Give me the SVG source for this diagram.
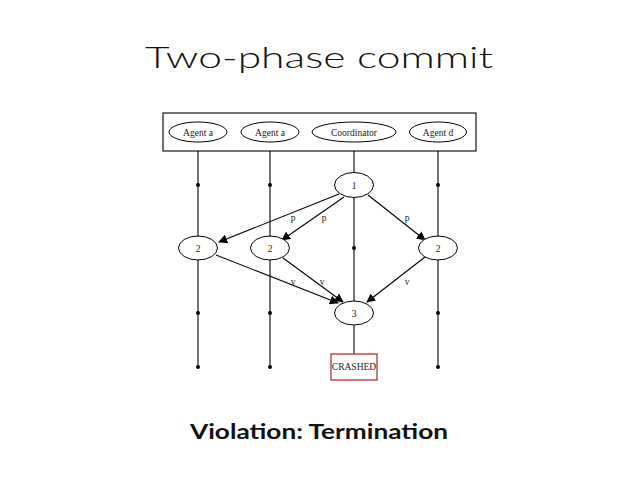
<svg xmlns="http://www.w3.org/2000/svg" width="638" height="479" viewBox="0 0 638 479">
<style>
.n{fill:#fff;stroke:#000;stroke-width:1}
.t{font-family:"Liberation Serif",serif;font-size:9.5px;fill:#222;text-anchor:middle}
.l{stroke:#000;stroke-width:1.1;fill:none}
.e{stroke:#000;stroke-width:1.1;fill:none;marker-end:url(#a)}
.d{fill:#000}
</style>
<defs>
<marker id="a" viewBox="0 0 10 10" refX="9" refY="5" markerWidth="9" markerHeight="9" markerUnits="userSpaceOnUse" orient="auto">
<path d="M0,0 L10,5 L0,10 z" fill="#000"/>
</marker>
</defs>
<rect width="638" height="479" fill="#fff"/>
<text x="145" y="68" font-family="Lato,'Noto Sans',sans-serif" font-size="30" font-weight="300" fill="#111" textLength="348" lengthAdjust="spacingAndGlyphs">Two-phase commit</text>
<g id="connectors">
<line class="l" x1="198" y1="151" x2="198" y2="237"/>
<line class="l" x1="198" y1="260" x2="198" y2="367"/>
<line class="l" x1="270" y1="151" x2="270" y2="237"/>
<line class="l" x1="270" y1="260" x2="270" y2="367"/>
<line class="l" x1="438" y1="151" x2="438" y2="237"/>
<line class="l" x1="438" y1="260" x2="438" y2="367"/>
<line class="l" x1="354" y1="151" x2="354" y2="173"/>
<line class="l" x1="354" y1="198" x2="354" y2="301"/>
<line class="l" x1="354" y1="325" x2="354" y2="354"/>
<circle class="d" cx="198" cy="185" r="2"/><circle class="d" cx="270" cy="185" r="2"/><circle class="d" cx="438" cy="185" r="2"/>
<circle class="d" cx="354" cy="248" r="2"/>
<circle class="d" cx="198" cy="313" r="2"/><circle class="d" cx="270" cy="313" r="2"/><circle class="d" cx="438" cy="313" r="2"/>
<circle class="d" cx="198" cy="367" r="2"/><circle class="d" cx="270" cy="367" r="2"/><circle class="d" cx="438" cy="367" r="2"/>
<line class="e" x1="339" y1="194" x2="219" y2="242"/>
<line class="e" x1="344" y1="197" x2="282" y2="240"/>
<line class="e" x1="368" y1="195" x2="425" y2="240"/>
<line class="e" x1="216" y1="255" x2="338" y2="303"/>
<line class="e" x1="283" y1="258" x2="343" y2="302"/>
<line class="e" x1="425" y1="257" x2="367" y2="302"/>
<text class="t" x="293" y="221">p</text>
<text class="t" x="324" y="221">p</text>
<text class="t" x="407" y="221">p</text>
<text class="t" x="293" y="285">v</text>
<text class="t" x="322" y="285">v</text>
<text class="t" x="407" y="285">v</text>
</g>
<g id="header">
<rect x="163" y="113" width="313" height="38" fill="none" stroke="#000" stroke-width="1.1"/>
</g>
<g id="agent1"><ellipse class="n" cx="198" cy="132" rx="29" ry="10"/><text class="t" x="198" y="135.5">Agent a</text></g>
<g id="agent2"><ellipse class="n" cx="270" cy="132" rx="29" ry="10"/><text class="t" x="270" y="135.5">Agent a</text></g>
<g id="coordinator"><ellipse class="n" cx="354" cy="132" rx="42" ry="10"/><text class="t" x="354" y="135.5">Coordinator</text></g>
<g id="agent3"><ellipse class="n" cx="438" cy="132" rx="28.5" ry="10"/><text class="t" x="438" y="135.5">Agent d</text></g>
<g id="n1"><ellipse class="n" cx="354" cy="185" rx="19.5" ry="12.5"/><text class="t" x="354" y="188.5">1</text></g>
<g id="n2a"><ellipse class="n" cx="198" cy="248" rx="19.5" ry="12"/><text class="t" x="198" y="251.5">2</text></g>
<g id="n2b"><ellipse class="n" cx="270" cy="248" rx="19.5" ry="12"/><text class="t" x="270" y="251.5">2</text></g>
<g id="n2c"><ellipse class="n" cx="438" cy="248" rx="19.5" ry="12"/><text class="t" x="438" y="251.5">2</text></g>
<g id="n3"><ellipse class="n" cx="354" cy="313" rx="19.5" ry="12"/><text class="t" x="354" y="316.5">3</text></g>
<g id="crashed"><rect x="331" y="354" width="46" height="26" fill="#fff" stroke="#b22222" stroke-width="1.2"/><text class="t" x="354" y="370" font-size="7px">CRASHED</text></g>
<text x="190" y="439" font-family="Lato,'Noto Sans',sans-serif" font-size="21" font-weight="bold" fill="#111" textLength="258" lengthAdjust="spacingAndGlyphs">Violation: Termination</text>
</svg>
